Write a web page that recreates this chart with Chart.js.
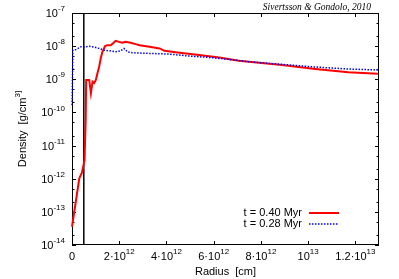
<!DOCTYPE html>
<html>
<head>
<meta charset="utf-8">
<script src="https://cdn.jsdelivr.net/npm/chart.js@4/dist/chart.umd.min.js"></script>
<style>
  html, body { margin: 0; padding: 0; background: #fff; }
  #graf { display: block; }
</style>
</head>
<body>
<canvas id="graf" width="399" height="279"></canvas>
<script>
// radius in units of 1e12 cm, density as log10(g/cm^3)
const redR   = [0, 0.31, 0.42, 0.53, 0.58, 0.60, 0.73, 0.80, 0.87, 0.94, 1.01, 1.08, 1.15, 1.22, 1.29, 1.40, 1.50, 1.64, 1.74, 1.85, 1.99, 2.13, 2.27, 2.48, 2.69, 2.86, 3.28, 3.71, 3.92, 4.55, 5.39, 6.23, 7.07, 7.92, 8.89, 10.3, 11.7, 12.95];
const redLog = [-13.45, -11.99, -11.82, -11.44, -10.2, -9.02, -9.02, -9.42, -9.07, -9.11, -9.02, -8.81, -8.62, -8.36, -8.17, -8.0, -7.97, -7.97, -7.91, -7.84, -7.87, -7.90, -7.87, -7.90, -7.94, -7.97, -8.02, -8.07, -8.14, -8.20, -8.27, -8.34, -8.44, -8.50, -8.57, -8.69, -8.79, -8.83];

const blueR   = [0, 0.04, 0.17, 0.38, 0.52, 0.73, 0.94, 1.15, 1.36, 1.57, 1.85, 2.06, 2.20, 2.35, 2.56, 3.28, 4.13, 4.97, 5.81, 6.65, 7.49, 8.89, 10.3, 11.7, 12.95];
const blueLog = [-9.78, -8.12, -8.10, -8.02, -8.03, -8.0, -8.03, -8.07, -8.12, -8.14, -8.17, -8.14, -8.07, -8.17, -8.20, -8.22, -8.24, -8.30, -8.34, -8.40, -8.47, -8.55, -8.63, -8.69, -8.72];

const wallR = 0.5; // vertical black line, 1e12 cm

const seriesNames = ['t = 0.40 Myr', 't = 0.28 Myr'];
const xTickVals = [0, 2e12, 4e12, 6e12, 8e12, 1e13, 1.2e13];
const xTickLabels = ['0', '2·10^12', '4·10^12', '6·10^12', '8·10^12', '10^13', '1.2·10^13'];
const yTickVals = [1e-14, 1e-13, 1e-12, 1e-11, 1e-10, 1e-9, 1e-8, 1e-7];
const yTickLabels = ['10^-14', '10^-13', '10^-12', '10^-11', '10^-10', '10^-9', '10^-8', '10^-7'];
const xTitle = 'Radius  [cm]';
const yTitle = 'Density  [g/cm^3]';
const credit = 'Sivertsson & Gondolo, 2010';

function pts(rs, logs) {
  return rs.map((r, i) => ({ x: r * 1e12, y: Math.pow(10, logs[i]) }));
}

const SANS = '"Liberation Sans", Arial, Helvetica, sans-serif';

// draws "a^b" with a raised small exponent
function powText(ctx, txt, x, y, align, big, small) {
  const parts = txt.split('^');
  ctx.font = big + 'px ' + SANS;
  const w1 = ctx.measureText(parts[0]).width;
  let w2 = 0;
  if (parts[1]) { ctx.font = small + 'px ' + SANS; w2 = ctx.measureText(parts[1]).width; }
  const w = w1 + w2;
  let x0 = x;
  if (align === 'right') x0 = x - w;
  else if (align === 'center') x0 = x - w / 2;
  ctx.textAlign = 'left';
  ctx.textBaseline = 'middle';
  ctx.font = big + 'px ' + SANS;
  ctx.fillText(parts[0], x0, y);
  if (parts[1]) {
    ctx.font = small + 'px ' + SANS;
    ctx.fillText(parts[1], x0 + w1, y - 5);
  }
}

const frame = {
  id: 'frame',
  // box and ticks go under the curves
  beforeDatasetsDraw(chart) {
    const ctx = chart.ctx;
    const a = chart.chartArea;
    const xs = chart.scales.x, ys = chart.scales.y;
    ctx.save();
    ctx.strokeStyle = '#000';
    ctx.lineWidth = 1;
    ctx.strokeRect(a.left + 0.5, a.top + 0.5, a.right - a.left - 1, a.bottom - a.top - 1);

    ctx.beginPath();
    xTickVals.forEach(v => {
      const px = Math.round(xs.getPixelForValue(v)) + 0.5;
      ctx.moveTo(px, a.bottom); ctx.lineTo(px, a.bottom - 4);
      ctx.moveTo(px, a.top); ctx.lineTo(px, a.top + 4);
    });
    yTickVals.forEach((v, i) => {
      const py = Math.round(ys.getPixelForValue(v)) + 0.5;
      ctx.moveTo(a.left, py); ctx.lineTo(a.left + 4, py);
      ctx.moveTo(a.right, py); ctx.lineTo(a.right - 4, py);
      if (i < yTickVals.length - 1) {
        [2, 5].forEach(m => {
          const pm = Math.round(ys.getPixelForValue(v * m)) + 0.5;
          ctx.moveTo(a.left, pm); ctx.lineTo(a.left + 2.5, pm);
          ctx.moveTo(a.right, pm); ctx.lineTo(a.right - 2.5, pm);
        });
      }
    });
    ctx.stroke();
    ctx.restore();
  },
  afterDatasetsDraw(chart) {
    const ctx = chart.ctx;
    const a = chart.chartArea;
    const xs = chart.scales.x, ys = chart.scales.y;
    ctx.save();
    ctx.fillStyle = '#000';
    yTickVals.forEach((v, i) => {
      powText(ctx, yTickLabels[i], a.left - 7, ys.getPixelForValue(v) + 1, 'right', 11, 8);
    });
    xTickVals.forEach((v, i) => {
      powText(ctx, xTickLabels[i], xs.getPixelForValue(v), a.bottom + 12, 'center', 11, 8);
    });

    powText(ctx, xTitle, (a.left + a.right) / 2, 272, 'center', 11, 8);

    ctx.save();
    ctx.translate(23, (a.top + a.bottom) / 2);
    ctx.rotate(-Math.PI / 2);
    powText(ctx, yTitle, 0, 0, 'center', 11, 8);
    ctx.restore();

    ctx.font = 'italic 9.5px "Liberation Serif", "Times New Roman", serif';
    ctx.textAlign = 'right';
    ctx.textBaseline = 'alphabetic';
    ctx.fillText(credit, 371, 10);

    // key
    chart.data.datasets.slice(0, 2).forEach((ds, i) => {
      const ly = 213 + i * 11;
      ctx.font = '11px ' + SANS;
      ctx.textAlign = 'right';
      ctx.textBaseline = 'middle';
      ctx.fillStyle = '#000';
      ctx.fillText(ds.label, 302, ly);
      ctx.beginPath();
      ctx.strokeStyle = ds.borderColor;
      ctx.lineWidth = ds.borderWidth;
      ctx.setLineDash(ds.borderDash || []);
      ctx.moveTo(309, ly); ctx.lineTo(339, ly);
      ctx.stroke();
      ctx.setLineDash([]);
    });
    ctx.restore();
  }
};

const data = {
  datasets: [{
    label: seriesNames[0],
    data: pts(redR, redLog),
    borderColor: 'rgb(255, 0, 0)',
    borderWidth: 2,
    clip: 2,
    order: 2
  }, {
    label: seriesNames[1],
    data: pts(blueR, blueLog),
    borderColor: 'rgb(0, 0, 255)',
    borderWidth: 1.5,
    borderDash: [1.5, 1.5],
    clip: 2,
    order: 1
  }, {
    label: 'wall',
    data: [{ x: wallR * 1e12, y: 1e-14 }, { x: wallR * 1e12, y: 1e-7 }],
    borderColor: '#000',
    borderWidth: 1.5,
    order: 3
  }]
};

const config = {
  type: 'line',
  data: data,
  options: {
    responsive: false,
    animation: false,
    devicePixelRatio: 1,
    parsing: false,
    elements: { point: { radius: 0 }, line: { tension: 0 } },
    layout: { padding: { left: 72, right: 20, top: 13, bottom: 34 } },
    plugins: { legend: { display: false }, tooltip: { enabled: false } },
    scales: {
      x: { type: 'linear', min: 0, max: 1.3e13, display: false },
      y: { type: 'logarithmic', min: 1e-14, max: 1e-7, display: false }
    }
  },
  plugins: [frame]
};

const ctx = document.querySelector('#graf').getContext('2d');
const graf = new Chart(ctx, config);
</script>
</body>
</html>
